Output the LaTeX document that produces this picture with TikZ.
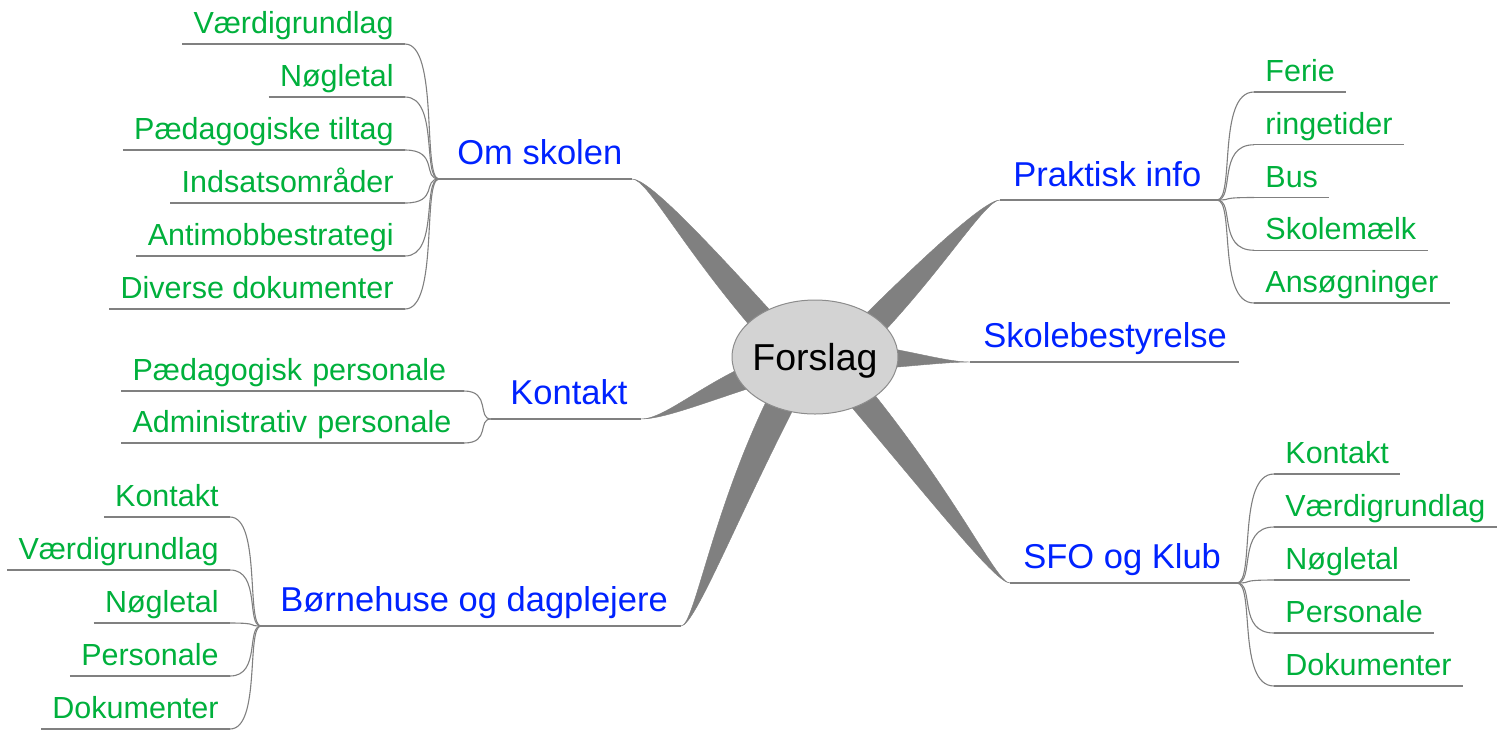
\documentclass[tikz,border=0pt]{standalone}
\usepackage{fontspec}
\setmainfont{Liberation Sans}
\usetikzlibrary{shapes.geometric,calc}
\definecolor{tblue}{HTML}{0022FF}
\definecolor{tgreen}{HTML}{00B03C}
\definecolor{lgray}{HTML}{808080}
\definecolor{egray}{HTML}{D3D3D3}
\definecolor{bgray}{HTML}{8C8C8C}
% #1 end, #2 control near end, #3 control near base, #4 base, #5 control offset, #6 half width at base
\newcommand\mmbranch[6]{\fill[branch] (#1) .. controls (#2) and ($(#3)!#5!-90:(#4)$) .. ($(#4)!#6!90:(#3)$) -- ($(#4)!#6!-90:(#3)$) .. controls ($(#3)!#5!90:(#4)$) and (#2) .. (#1);}
\begin{document}
\begin{tikzpicture}[x=0.5pt,y=-0.5pt,
  conn/.style={draw=lgray, line width=0.55pt},
  branch/.style={fill=lgray, draw=lgray, line width=0.2pt},
  topic/.style={text=tblue, font=\fontsize{17.25}{20}\selectfont, inner sep=0pt, anchor=base west},
  leaf/.style={text=tgreen, font=\fontsize{15.25}{18}\selectfont, inner xsep=5.5pt, inner ysep=5pt, text depth=0pt},
  rootnode/.style={ellipse, fill=egray, draw=bgray, line width=0.5pt, minimum width=83pt, minimum height=57pt, inner xsep=-2pt, inner ysep=0pt, font=\fontsize{18.75}{22}\selectfont, text height=13pt, text depth=0pt}
]
\useasboundingbox (0,0) rectangle (1512,746);

% branch end points and hubs
\coordinate (E1) at (632,179); \coordinate (hOm) at (439,179);
\coordinate (E2) at (1000,200); \coordinate (hPr) at (1217,200);
\coordinate (E3) at (970,362); \coordinate (eSk) at (1239,362);
\coordinate (E4) at (641,419); \coordinate (hKo) at (491,419);
\coordinate (E5) at (681,626); \coordinate (hBo) at (261,626);
\coordinate (E6) at (1010,583); \coordinate (hSF) at (1237,583);

% control points and bases of the thick branches
\coordinate (a1) at (648,179); \coordinate (b1) at (690,240); \coordinate (B1) at (775,335);
\coordinate (a2) at (985,200); \coordinate (b2) at (935,262); \coordinate (B2) at (863,335);
\coordinate (a3) at (945,362); \coordinate (b3) at (905,358); \coordinate (B3) at (860,357);
\coordinate (a4) at (668,419); \coordinate (b4) at (715,385); \coordinate (B4) at (790,362);
\coordinate (a5) at (695,626); \coordinate (b5) at (725,510); \coordinate (B5) at (790,385);
\coordinate (a6) at (996,583); \coordinate (b6) at (950,505); \coordinate (B6) at (850,385);

\mmbranch{E1}{a1}{b1}{B1}{6pt}{6.5pt}
\mmbranch{E2}{a2}{b2}{B2}{6pt}{6.5pt}
\mmbranch{E3}{a3}{b3}{B3}{4.5pt}{6.5pt}
\mmbranch{E4}{a4}{b4}{B4}{6pt}{6.5pt}
\mmbranch{E5}{a5}{b5}{B5}{7pt}{7pt}
\mmbranch{E6}{a6}{b6}{B6}{6pt}{6.5pt}

\node[rootnode] (root) at (815,357) {Forslag};

% main topics
\node[topic] (tOm) at (457,164) {Om skolen};
\node[topic] (tPr) at (1013,186) {Praktisk info};
\node[topic] (tSk) at (983,347) {Skolebestyrelse};
\node[topic] (tSF) at (1023,568) {SFO og Klub};
\node[topic] (tKo) at (510,404) {Kontakt};
\node[topic] (tBo) at (280,611) {Børnehuse og dagplejere};

\draw[conn] (E1) -- (hOm);
\draw[conn] (E2) -- (hPr);
\draw[conn] (E3) -- (eSk);
\draw[conn] (E4) -- (hKo);
\draw[conn] (E5) -- (hBo);
\draw[conn] (E6) -- (hSF);

% Om skolen leaves
\foreach \t [count=\i] in {Værdigrundlag,Nøgletal,Pædagogiske tiltag,Indsatsområder,Antimobbestrategi,Diverse dokumenter}{
  \node[leaf, anchor=south east] (om\i) at (405,{44+53*(\i-1)}) {\t};
  \draw[conn] (om\i.south west) -- (om\i.south east);
  \draw[conn] (hOm) .. controls +(-17,0) and +(34,0) .. (om\i.south east);
}
% Kontakt leaves
\foreach \t [count=\i] in {Pædagogisk personale,Administrativ personale}{
  \node[leaf, anchor=south east, text width=160pt, align=left] (ko\i) at (464,{391+52*(\i-1)}) {\t};
  \draw[conn] (ko\i.south west) -- (ko\i.south east);
  \draw[conn] (hKo) .. controls +(-14,0) and +(27,0) .. (ko\i.south east);
}
% Børnehuse leaves
\foreach \t [count=\i] in {Kontakt,Værdigrundlag,Nøgletal,Personale,Dokumenter}{
  \node[leaf, anchor=south east] (bo\i) at (230,{517+53*(\i-1)}) {\t};
  \draw[conn] (bo\i.south west) -- (bo\i.south east);
  \draw[conn] (hBo) .. controls +(-15,0) and +(31,0) .. (bo\i.south east);
}
% Praktisk info leaves
\foreach \t [count=\i] in {Ferie,ringetider,Bus,Skolemælk,Ansøgninger}{
  \node[leaf, anchor=south west] (pr\i) at (1254,{92+52.75*(\i-1)}) {\t};
  \draw[conn] (pr\i.south west) -- (pr\i.south east);
  \draw[conn] (hPr) .. controls +(18,0) and +(-37,0) .. (pr\i.south west);
}
% SFO leaves
\foreach \t [count=\i] in {Kontakt,Værdigrundlag,Nøgletal,Personale,Dokumenter}{
  \node[leaf, anchor=south west] (sf\i) at (1274,{474+53*(\i-1)}) {\t};
  \draw[conn] (sf\i.south west) -- (sf\i.south east);
  \draw[conn] (hSF) .. controls +(18,0) and +(-37,0) .. (sf\i.south west);
}
\end{tikzpicture}
\end{document}
